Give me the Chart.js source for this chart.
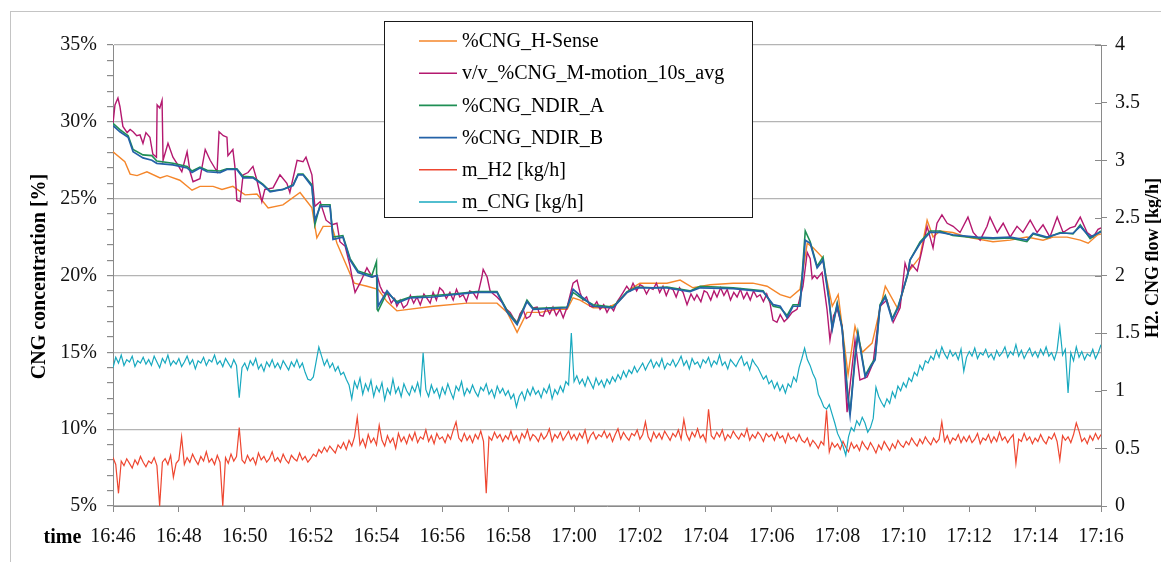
<!DOCTYPE html>
<html>
<head>
<meta charset="utf-8">
<script src="https://cdn.jsdelivr.net/npm/chart.js@4"></script>
<style>
  html, body { margin: 0; padding: 0; background: #fff; }
  #wrap { width: 1161px; height: 562px; position: relative; }
</style>
</head>
<body>
<div id="wrap"><canvas id="c" width="1161" height="562"></canvas></div>
<script>
// ---- tick labels (x axis, every 2 minutes from 16:46) ----
const timeLabels = ['16:46','16:48','16:50','16:52','16:54','16:56','16:58','17:00','17:02','17:04','17:06','17:08','17:10','17:12','17:14','17:16'];

// ---- %CNG_H-Sense (minutes after 16:46, %) ----
const hSenseT = [0,0.36,0.52,0.73,1.03,1.43,1.64,2.03,2.4,2.64,3.04,3.31,3.64,4.01,4.37,4.71,5.16,5.68,6.04,6.19,6.38,6.65,6.8,7.24,7.33,7.71,8.05,8.32,8.62,9.72,10.75,11.36,11.66,11.97,12.27,12.57,12.97,13.48,13.79,13.97,14.18,14.58,15,15.31,15.7,16,16.82,17.22,17.61,18.13,18.83,19.43,19.86,20.26,20.56,20.86,21.08,21.26,21.53,21.84,22.02,22.32,22.53,22.75,23.05,23.45,23.84,24.14,24.5,24.72,24.9,25.11,25.5,25.93,26.72,27.24,27.75,28.24,28.54,28.97,29.37,29.61,29.9,30];
const hSenseV = [28.05,27.4,26.6,26.5,26.75,26.35,26.5,26.2,25.55,25.8,25.8,25.6,25.8,25.25,25.3,24.4,24.6,25.4,24.4,22.45,23.2,23.2,22.1,19.9,19.5,19.3,19.1,18.3,17.7,18.0,18.2,18.2,18.2,17.6,16.3,17.6,17.6,17.8,17.8,18.55,18.4,17.9,17.9,18.2,19.1,19.5,19.5,19.7,19.2,19.4,19.5,19.5,19.3,18.75,18.55,19.1,22.1,21.8,21.2,18.0,18.75,13.55,16.7,15.0,15.6,19.3,17.8,20.2,21.2,23.6,22.5,22.9,22.8,22.5,22.2,22.3,22.5,22.3,22.5,22.5,22.3,22.1,22.65,22.7];

// ---- v/v_%CNG_M-motion_10s_avg (minutes, %) ----
const mMotionT = [0,0.06,0.15,0.21,0.3,0.43,0.52,0.61,0.72,0.82,0.91,1.0,1.12,1.21,1.32,1.34,1.42,1.49,1.52,1.67,1.82,1.94,2.09,2.25,2.34,2.43,2.64,2.8,2.95,3.16,3.22,3.35,3.46,3.49,3.64,3.7,3.76,3.86,3.95,4.1,4.25,4.37,4.52,4.61,4.86,5.07,5.28,5.37,5.59,5.77,5.86,6.04,6.13,6.29,6.47,6.65,6.8,6.89,7.05,7.2,7.29,7.35,7.5,7.71,7.87,8.02,8.11,8.2,8.35,8.45,8.55,8.62,8.72,8.82,8.93,9.03,9.13,9.23,9.33,9.44,9.54,9.63,9.72,9.82,9.92,10.02,10.12,10.23,10.33,10.43,10.53,10.63,10.73,10.83,10.93,11.05,11.2,11.24,11.36,11.45,11.55,11.66,11.84,11.95,12.06,12.17,12.27,12.36,12.45,12.55,12.66,12.77,12.88,12.97,13.06,13.16,13.26,13.36,13.46,13.57,13.67,13.79,13.97,14.09,14.18,14.27,14.38,14.48,14.58,14.69,14.79,14.9,15.0,15.1,15.2,15.31,15.4,15.49,15.6,15.7,15.79,15.9,16.0,16.09,16.2,16.3,16.4,16.5,16.6,16.7,16.8,16.9,17.0,17.1,17.2,17.31,17.43,17.55,17.65,17.73,17.85,17.95,18.04,18.15,18.25,18.34,18.45,18.55,18.65,18.75,18.85,18.95,19.05,19.15,19.25,19.35,19.45,19.55,19.65,19.75,19.85,19.95,20.04,20.16,20.26,20.38,20.5,20.62,20.77,20.95,21.08,21.17,21.23,21.3,21.38,21.53,21.68,21.77,21.88,21.99,22.14,22.29,22.44,22.53,22.68,22.9,23.08,23.29,23.5,23.69,23.9,24.05,24.14,24.26,24.42,24.57,24.72,24.81,24.9,25.02,25.17,25.33,25.51,25.72,25.96,26.12,26.33,26.54,26.63,26.85,27.03,27.24,27.45,27.63,27.85,28.06,28.24,28.45,28.67,28.85,29.06,29.21,29.37,29.58,29.76,29.91,30];
const mMotionV = [29.9,31.1,31.55,31.0,29.7,29.3,29.5,29.35,29.1,29.15,28.6,29.3,29.0,27.9,27.7,31.1,30.9,31.4,27.5,28.6,27.7,27.3,26.75,28.05,26.75,26.1,26.3,28.2,27.5,26.75,29.35,29.1,29.0,27.8,28.2,27.1,24.9,24.8,26.55,26.7,27.1,26.2,24.8,25.6,25.7,26.55,26.0,25.4,27.5,27.4,27.7,26.55,24.5,24.8,23.6,23.3,23.4,22.2,21.9,20.6,19.5,18.9,19.5,20.5,19.9,20.0,19.3,18.9,18.75,18.2,18.5,18.0,18.4,17.9,18.1,18.7,18.2,18.6,18.1,18.8,18.5,18.2,18.9,18.4,19.2,19.0,18.5,18.9,18.4,19.1,18.6,18.75,18.3,19.0,18.9,18.5,19.9,20.4,19.9,19.0,18.8,18.6,18.2,17.8,17.6,17.2,16.95,17.5,17.8,17.2,17.35,17.9,17.95,17.4,17.35,17.9,17.5,17.95,17.4,17.8,17.25,17.95,19.5,19.7,18.9,18.4,18.6,18.0,17.95,18.3,17.8,18.1,17.6,18.0,17.7,18.3,18.6,18.9,19.3,19.0,19.5,19.0,19.4,19.3,18.8,19.2,19.1,19.5,18.9,19.3,18.7,19.2,19.1,18.6,19.2,18.9,18.1,18.8,18.4,18.75,18.3,19.0,18.9,18.4,19.0,18.6,19.2,18.7,19.1,18.4,18.9,18.6,19.1,18.5,18.9,18.4,19.0,18.6,18.75,18.3,18.8,18.2,17.1,16.95,17.45,17.0,17.25,17.6,17.8,19.3,21.5,21.1,19.8,20.0,19.8,20.2,17.8,15.8,17.4,17.8,16.7,11.1,14.0,15.8,13.2,13.4,14.3,18.0,18.4,16.95,17.9,20.8,20.2,20.7,20.3,21.7,23.2,22.5,21.8,23.4,23.95,23.4,23.2,22.8,23.8,22.8,22.3,23.2,23.8,22.8,23.4,22.5,23.2,22.8,23.6,22.8,23.3,22.5,23.8,22.8,23.1,23.2,23.8,22.8,22.5,23.0,23.1];

// ---- %CNG_NDIR_A (minutes, %) ----
const ndirAT = [0,0.21,0.46,0.61,0.91,1.18,1.33,1.82,2.25,2.4,2.64,2.86,3.25,3.46,3.76,3.95,4.25,4.55,4.77,5.16,5.47,5.62,5.77,6.04,6.13,6.29,6.59,6.68,6.98,7.2,7.44,7.86,8.0,8.02,8.05,8.32,8.62,9.02,9.72,10.33,11.05,11.66,11.97,12.27,12.57,12.76,13.79,13.97,14.24,14.58,15.18,15.61,15.91,16.4,16.82,17.52,17.83,18.83,19.74,20.05,20.26,20.47,20.65,20.86,21.02,21.17,21.38,21.56,21.74,21.84,21.99,22.14,22.29,22.38,22.53,22.62,22.84,23.02,23.14,23.29,23.45,23.66,23.84,24.14,24.2,24.51,24.81,25.11,25.5,26.23,26.72,27.24,27.75,27.94,28.36,28.76,29.15,29.37,29.67,30];
const ndirAV = [29.9,29.5,29.1,28.2,27.85,27.8,27.45,27.3,27.1,26.8,27.05,26.85,26.8,26.95,26.95,26.45,26.4,25.95,25.5,25.6,25.9,26.6,26.6,25.9,23.3,24.6,24.6,22.5,22.6,21.1,20.3,20.0,20.9,17.8,17.7,18.9,18.3,18.6,18.7,18.8,18.95,18.95,17.7,16.9,18.4,17.85,17.95,18.9,18.5,18.1,17.95,18.95,19.25,19.2,19.25,19.0,19.3,19.2,19.0,18.0,17.9,17.4,18.1,18.1,22.9,22.2,20.6,21.2,18.5,16.6,18.2,16.6,12.8,11.0,14.7,16.3,13.5,14.2,14.6,18.1,18.7,17.2,18.0,20.1,21.0,22.2,22.9,22.9,22.6,22.45,22.4,22.45,22.2,22.7,22.45,22.8,22.7,23.3,22.4,22.9];

// ---- %CNG_NDIR_B (minutes, %) ----
const ndirBT = [0,0.21,0.46,0.61,0.91,1.18,1.33,1.82,2.25,2.4,2.64,2.86,3.25,3.46,3.76,3.95,4.25,4.55,4.77,5.16,5.47,5.62,5.77,6.04,6.13,6.29,6.59,6.68,6.98,7.2,7.44,7.86,8.02,8.05,8.32,8.62,9.02,9.72,10.33,11.05,11.66,11.97,12.27,12.57,12.76,13.79,13.97,14.24,14.58,15.18,15.61,15.91,16.4,16.82,17.52,17.83,18.83,19.74,20.05,20.26,20.47,20.65,20.86,21.02,21.17,21.38,21.56,21.74,21.84,21.99,22.14,22.29,22.38,22.53,22.62,22.84,23.02,23.14,23.29,23.45,23.66,23.84,24.14,24.2,24.51,24.81,25.11,25.5,26.23,26.72,27.24,27.75,27.94,28.36,28.76,29.15,29.37,29.67,30];
const ndirBV = [29.75,29.35,29.0,28.05,27.65,27.5,27.3,27.2,27.0,26.7,27.0,26.75,26.7,26.9,26.9,26.35,26.35,25.9,25.45,25.6,25.85,26.55,26.55,25.8,23.6,24.5,24.5,22.35,22.5,21.0,20.2,19.9,20.0,18.0,19.0,18.2,18.55,18.6,18.75,18.9,18.9,17.6,16.8,18.3,17.8,17.9,19.1,18.6,18.0,17.9,18.9,19.2,19.2,19.2,18.95,19.2,19.15,18.95,18.1,18.0,17.25,18.0,18.0,22.3,22.1,20.5,21.0,18.4,16.5,18.1,16.5,12.5,10.9,14.5,16.15,13.4,14.1,14.5,18.0,18.6,17.1,17.9,20.2,21.0,22.1,22.8,22.8,22.65,22.5,22.45,22.5,22.3,22.75,22.5,22.75,22.75,23.2,22.5,22.85];

// ---- m_H2 [kg/h], one reading every 5 s from 16:46:00 (12 per minute) ----
const sampleSeconds = 5;
const mH2 = [
0.42,0.36,0.11,0.39,0.35,0.41,0.37,0.33,0.40,0.36,0.43,0.38,
0.34,0.39,0.37,0.42,0.35,0.00,0.38,0.41,0.36,0.44,0.25,0.37,
0.40,0.60,0.36,0.42,0.38,0.45,0.40,0.36,0.43,0.39,0.47,0.38,
0.41,0.36,0.44,0.38,0.00,0.42,0.37,0.45,0.39,0.43,0.68,0.40,
0.37,0.44,0.39,0.42,0.36,0.46,0.40,0.43,0.38,0.41,0.47,0.39,
0.42,0.38,0.45,0.40,0.37,0.44,0.41,0.39,0.46,0.40,0.43,0.38,
0.41,0.45,0.43,0.49,0.46,0.51,0.47,0.52,0.49,0.46,0.53,0.50,
0.55,0.49,0.57,0.52,0.60,0.77,0.53,0.58,0.51,0.62,0.55,0.59,
0.53,0.70,0.57,0.52,0.61,0.55,0.59,0.50,0.63,0.56,0.60,0.54,
0.62,0.57,0.64,0.55,0.60,0.58,0.66,0.56,0.61,0.54,0.63,0.58,
0.60,0.55,0.62,0.58,0.66,0.73,0.59,0.56,0.63,0.57,0.61,0.55,
0.62,0.58,0.65,0.56,0.11,0.60,0.57,0.64,0.59,0.62,0.56,0.61,
0.58,0.65,0.57,0.61,0.55,0.63,0.59,0.66,0.57,0.62,0.60,0.56,
0.63,0.58,0.61,0.67,0.56,0.62,0.59,0.64,0.57,0.61,0.65,0.58,
0.62,0.57,0.63,0.59,0.66,0.55,0.61,0.64,0.58,0.62,0.60,0.65,
0.59,0.63,0.56,0.62,0.67,0.58,0.64,0.60,0.57,0.63,0.61,0.66,
0.58,0.62,0.73,0.60,0.56,0.64,0.59,0.63,0.58,0.65,0.61,0.57,
0.63,0.60,0.66,0.58,0.75,0.62,0.57,0.64,0.60,0.67,0.59,0.62,
0.56,0.84,0.61,0.58,0.64,0.60,0.66,0.57,0.62,0.59,0.65,0.61,
0.58,0.63,0.60,0.67,0.57,0.62,0.59,0.64,0.61,0.56,0.63,0.60,
0.62,0.57,0.64,0.59,0.61,0.55,0.63,0.58,0.60,0.56,0.62,0.57,
0.55,0.59,0.52,0.57,0.54,0.50,0.56,0.53,0.83,0.47,0.55,0.51,
0.54,0.49,0.56,0.51,0.47,0.55,0.50,0.53,0.48,0.56,0.52,0.49,
0.55,0.51,0.46,0.53,0.49,0.56,0.52,0.48,0.54,0.50,0.57,0.53,
0.51,0.56,0.53,0.59,0.55,0.52,0.58,0.54,0.60,0.56,0.53,0.59,
0.55,0.58,0.73,0.56,0.61,0.54,0.59,0.57,0.62,0.55,0.60,0.56,
0.61,0.55,0.58,0.63,0.54,0.59,0.57,0.62,0.55,0.60,0.56,0.64,
0.57,0.60,0.55,0.59,0.62,0.37,0.58,0.56,0.63,0.57,0.60,0.54,
0.59,0.56,0.62,0.57,0.54,0.60,0.58,0.63,0.56,0.40,0.61,0.57,
0.60,0.55,0.62,0.72,0.65,0.56,0.59,0.54,0.61,0.57,0.63,0.58,
0.62];

// ---- m_CNG [kg/h], one reading every 5 s from 16:46:00 ----
const mCNG = [
1.20,1.29,1.24,1.31,1.22,1.27,1.25,1.30,1.21,1.26,1.24,1.29,
1.23,1.27,1.22,1.30,1.25,1.20,1.28,1.24,1.31,1.22,1.26,1.23,
1.28,1.21,1.25,1.30,1.23,1.27,1.19,1.26,1.24,1.29,1.22,1.27,
1.25,1.31,1.23,1.26,1.21,1.28,1.24,1.20,1.27,1.22,0.94,1.20,
1.24,1.18,1.26,1.22,1.28,1.19,1.23,1.17,1.25,1.21,1.27,1.20,
1.24,1.19,1.26,1.22,1.18,1.25,1.21,1.27,1.20,1.24,1.16,1.10,
1.09,1.12,1.25,1.38,1.30,1.22,1.27,1.20,1.24,1.17,1.21,1.14,
1.16,1.10,1.05,0.93,1.08,1.02,1.11,0.97,1.06,1.00,1.09,0.95,
1.04,0.99,1.07,0.92,1.02,0.97,1.10,0.98,1.03,0.95,1.06,1.00,
0.96,1.04,0.99,1.07,0.97,1.33,1.01,0.95,1.05,0.98,1.02,0.94,
1.03,0.97,1.06,0.99,0.93,1.04,1.00,1.08,0.96,1.02,0.98,1.05,
0.99,0.95,1.03,1.00,1.06,0.97,1.01,0.94,1.04,0.98,1.02,0.96,
1.00,0.93,0.97,0.86,0.95,0.99,0.92,1.01,0.96,1.03,0.97,1.00,
0.94,1.02,0.98,1.05,0.93,1.01,0.97,1.04,0.99,1.08,1.05,1.50,
1.08,1.13,1.06,1.10,1.04,1.12,1.07,1.02,1.11,1.05,1.09,1.03,
1.10,1.06,1.12,1.08,1.14,1.10,1.17,1.12,1.18,1.15,1.21,1.16,
1.20,1.24,1.18,1.23,1.27,1.20,1.25,1.21,1.28,1.19,1.24,1.22,
1.27,1.21,1.25,1.30,1.22,1.26,1.19,1.28,1.23,1.25,1.20,1.27,
1.24,1.29,1.21,1.26,1.23,1.31,1.22,1.25,1.19,1.27,1.24,1.21,
1.26,1.30,1.22,1.25,1.18,1.27,1.23,1.20,1.15,1.10,1.13,1.06,
1.09,1.02,1.07,1.00,1.05,0.98,1.06,1.03,1.12,1.08,1.20,1.28,
1.37,1.27,1.22,1.15,1.10,0.97,0.92,0.86,0.84,0.88,0.80,0.72,
0.63,0.58,0.52,0.44,0.60,0.68,0.65,0.74,0.70,0.77,0.72,0.64,
0.68,0.76,1.03,0.95,0.90,0.86,0.93,0.89,0.99,0.94,1.04,1.00,
1.07,1.03,1.11,1.08,1.16,1.13,1.22,1.18,1.26,1.24,1.30,1.27,
1.35,1.29,1.38,1.32,1.28,1.35,1.30,1.33,1.27,1.36,1.17,1.29,
1.34,1.30,1.37,1.28,1.33,1.31,1.36,1.29,1.32,1.27,1.35,1.30,
1.33,1.38,1.29,1.34,1.31,1.40,1.30,1.35,1.28,1.33,1.37,1.30,
1.34,1.29,1.36,1.31,1.38,1.30,1.33,1.27,1.35,1.55,1.31,1.36,
0.98,1.33,1.26,1.38,1.29,1.34,1.27,1.32,1.30,1.36,1.28,1.33,
1.40];

// ---- build point lists from the arrays ----
const pairs = (t, v) => t.map((x, i) => ({ x: x, y: v[i] }));
const sampled = (v) => v.map((y, i) => ({ x: i * sampleSeconds / 60, y: y }));

const SERIF = '"Liberation Serif", "Times New Roman", "DejaVu Serif", serif';
const TICKFONT = { family: SERIF, size: 20, weight: 'normal' };
Chart.defaults.font.family = SERIF;
Chart.defaults.font.size = 20;
Chart.defaults.color = '#111';

const GRID = '#b4b4b4';
const AXIS = '#8a8a8a';

const decorPlugin = {
  id: 'decor',
  beforeDraw(chart) {
    const ctx = chart.ctx;
    ctx.save();
    ctx.fillStyle = '#ffffff';
    ctx.fillRect(0, 0, chart.width, chart.height);
    ctx.strokeStyle = '#c4c4c4';
    ctx.lineWidth = 1;
    ctx.strokeRect(10.5, 11.5, 1200, 600);
    ctx.restore();
  },
  afterDraw(chart) {
    const ctx = chart.ctx;
    const y1 = chart.scales.y1;
    ctx.save();
    // inner half of the right-axis tick marks
    ctx.strokeStyle = AXIS;
    ctx.lineWidth = 1;
    y1.ticks.forEach(t => {
      const py = Math.round(y1.getPixelForValue(t.value)) + 0.5;
      ctx.beginPath();
      ctx.moveTo(y1.left - 6, py);
      ctx.lineTo(y1.left, py);
      ctx.stroke();
    });
    // axis titles
    ctx.fillStyle = '#000';
    ctx.font = 'bold 20px ' + SERIF;
    ctx.textAlign = 'center';
    ctx.textBaseline = 'alphabetic';
    ctx.save();
    ctx.translate(45, 276.5);
    ctx.rotate(-Math.PI / 2);
    ctx.fillText('CNG concentration [%]', 0, 0);
    ctx.restore();
    ctx.save();
    ctx.font = 'bold 18px ' + SERIF;
    ctx.translate(1158, 258);
    ctx.rotate(-Math.PI / 2);
    ctx.fillText('H2. CNG flow [kg/h]', 0, 0);
    ctx.restore();
    ctx.textAlign = 'left';
    ctx.fillText('time', 43.5, 543);
    // legend box
    const lx = 384, ly = 21, lw = 368, lh = 196;
    ctx.fillStyle = '#ffffff';
    ctx.fillRect(lx, ly, lw, lh);
    ctx.strokeStyle = '#1a1a1a';
    ctx.strokeRect(lx + 0.5, ly + 0.5, lw, lh);
    ctx.font = '20px ' + SERIF;
    ctx.textBaseline = 'middle';
    chart.data.datasets.forEach((ds, i) => {
      const yy = 41 + i * 32.2;
      ctx.strokeStyle = ds.borderColor;
      ctx.lineWidth = 1.6;
      ctx.beginPath();
      ctx.moveTo(419, yy);
      ctx.lineTo(457, yy);
      ctx.stroke();
      ctx.fillStyle = '#000';
      ctx.fillText(ds.label, 462, yy + 1);
    });
    ctx.restore();
  }
};

const mk = (label, color, data, axis, width, order) => ({
  label, data, yAxisID: axis, borderColor: color, backgroundColor: color,
  borderWidth: width, pointRadius: 0, tension: 0, fill: false, order
});

new Chart(document.getElementById('c'), {
  type: 'line',
  data: {
    datasets: [
      mk('%CNG_H-Sense', '#f5862a', pairs(hSenseT, hSenseV), 'y', 1.4, 3),
      mk('v/v_%CNG_M-motion_10s_avg', '#b4186f', pairs(mMotionT, mMotionV), 'y', 1.4, 2),
      mk('%CNG_NDIR_A', '#1f8f55', pairs(ndirAT, ndirAV), 'y', 1.6, 1),
      mk('%CNG_NDIR_B', '#2462a8', pairs(ndirBT, ndirBV), 'y', 1.7, 0),
      mk('m_H2 [kg/h]', '#ee4630', sampled(mH2), 'y1', 1.2, 5),
      mk('m_CNG [kg/h]', '#18a9bf', sampled(mCNG), 'y1', 1.2, 4)
    ]
  },
  options: {
    responsive: false,
    animation: false,
    events: [],
    layout: { padding: { top: 45, left: 0, right: 0, bottom: 0 } },
    plugins: { legend: { display: false }, tooltip: { enabled: false }, title: { display: false } },
    scales: {
      x: {
        type: 'linear', min: 0, max: 30,
        afterFit: s => { s.height = 56; },
        ticks: {
          stepSize: 2, autoSkip: false, maxRotation: 0, padding: 13,
          color: '#111', font: TICKFONT,
          callback: v => timeLabels[Math.round(v / 2)]
        },
        grid: { drawOnChartArea: false, tickLength: 6, tickColor: AXIS },
        border: { color: AXIS, width: 1 }
      },
      y: {
        position: 'left', min: 5, max: 35,
        afterFit: s => { s.width = 113; },
        ticks: {
          stepSize: 1, autoSkip: false, padding: 10, color: '#111', font: TICKFONT,
          callback: v => (Math.round(v) % 5 === 0 ? Math.round(v) + '%' : '')
        },
        grid: {
          color: c => (c.tick && Math.round(c.tick.value) % 5 === 0 ? GRID : 'rgba(0,0,0,0)'),
          lineWidth: 1.2, tickLength: 6, tickColor: AXIS
        },
        border: { color: AXIS, width: 1 }
      },
      y1: {
        position: 'right', min: 0, max: 4,
        afterFit: s => { s.width = 60; },
        ticks: {
          stepSize: 0.5, autoSkip: false, padding: 8, color: '#111', font: TICKFONT,
          callback: v => String(v)
        },
        grid: { drawOnChartArea: false, tickLength: 6, tickColor: AXIS },
        border: { color: AXIS, width: 1 }
      }
    }
  },
  plugins: [decorPlugin]
});
</script>
</body>
</html>
